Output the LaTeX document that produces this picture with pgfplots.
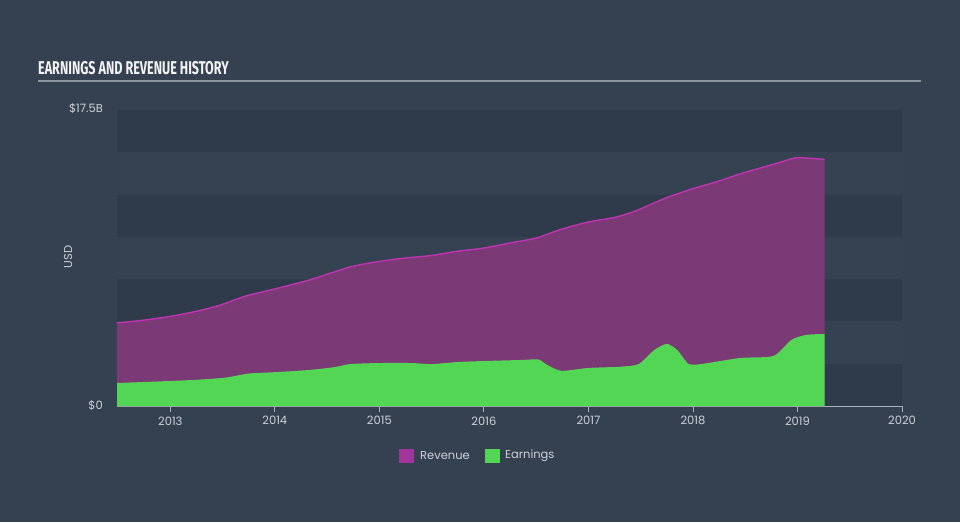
\documentclass[border=0pt]{standalone}
\usepackage{pgfplots}
\pgfplotsset{compat=1.18}
\usepackage{fontspec}
\setmainfont{Poppins}
\newfontfamily\titlefont[FakeStretch=0.68]{Fira Sans}
\definecolor{bgc}{RGB}{53,65,80}
\definecolor{banddark}{RGB}{47,59,74}
\definecolor{bandlight}{RGB}{53,66,81}
\definecolor{titlec}{RGB}{242,242,242}
\definecolor{linec}{RGB}{140,150,162}
\definecolor{labc}{RGB}{205,210,216}
\definecolor{axc}{RGB}{170,178,188}
\definecolor{revfill}{RGB}{123,57,117}
\definecolor{revline}{RGB}{192,52,178}
\definecolor{revleg}{RGB}{160,54,154}
\definecolor{earnfill}{RGB}{82,214,84}

\pgfplotstableread{
x y
2012.49 4.91
2012.75 5.08
2013.00 5.30
2013.25 5.60
2013.48 5.97
2013.72 6.50
2014.00 6.92
2014.33 7.45
2014.72 8.22
2015.00 8.55
2015.25 8.75
2015.50 8.90
2015.75 9.15
2016.00 9.34
2016.25 9.64
2016.50 9.93
2016.74 10.45
2017.00 10.88
2017.25 11.15
2017.45 11.53
2017.74 12.30
2018.00 12.85
2018.25 13.30
2018.45 13.72
2018.78 14.31
2018.98 14.67
2019.10 14.65
2019.26 14.58
}\revenue

\pgfplotstableread{
x y
2012.49 1.36
2012.75 1.42
2013.00 1.48
2013.25 1.55
2013.53 1.68
2013.75 1.92
2014.00 2.00
2014.33 2.13
2014.57 2.30
2014.72 2.48
2015.00 2.54
2015.30 2.54
2015.50 2.48
2015.75 2.60
2016.00 2.66
2016.35 2.72
2016.52 2.75
2016.60 2.45
2016.74 2.08
2017.00 2.25
2017.30 2.32
2017.48 2.48
2017.63 3.31
2017.75 3.67
2017.85 3.31
2017.96 2.48
2018.10 2.50
2018.45 2.84
2018.77 2.96
2018.94 3.90
2019.08 4.20
2019.26 4.26
}\earnings

\begin{document}
\begin{tikzpicture}[x=1pt,y=1pt]
\fill[bgc] (0,0) rectangle (960,522);
\useasboundingbox (0,0) rectangle (960,522);
\node[anchor=base west, inner sep=0pt, text=titlec, font=\titlefont\bfseries\fontsize{18.5}{20}\selectfont] at (38,447) {EARNINGS AND REVENUE HISTORY};
\draw[linec, line width=1.5pt] (38,441) -- (921,441);
\begin{axis}[
  at={(117pt,116pt)}, anchor=south west,
  width=785pt, height=296pt, scale only axis,
  xmin=2012.49, xmax=2020, ymin=0, ymax=17.5,
  axis x line=bottom, axis y line=none,
  x axis line style={draw=axc, line width=0.8pt, -},
  xtick={2013,2014,2015,2016,2017,2018,2019,2020},
  xticklabels={2013,2014,2015,2016,2017,2018,2019,2020},
  tick align=outside, major tick length=6pt,
  x tick style={draw=axc, line width=0.8pt},
  x tick label style={text=labc, font=\fontsize{11.5}{13}\selectfont, yshift=-1pt},
  /pgf/number format/assume math mode=true,
  clip=false,
]
\fill[banddark] (axis cs:2012.49,15) rectangle (axis cs:2020,17.5);
\fill[bandlight] (axis cs:2012.49,12.5) rectangle (axis cs:2020,15);
\fill[banddark] (axis cs:2012.49,10) rectangle (axis cs:2020,12.5);
\fill[bandlight] (axis cs:2012.49,7.5) rectangle (axis cs:2020,10);
\fill[banddark] (axis cs:2012.49,5) rectangle (axis cs:2020,7.5);
\fill[bandlight] (axis cs:2012.49,2.5) rectangle (axis cs:2020,5);
\fill[banddark] (axis cs:2012.49,0) rectangle (axis cs:2020,2.5);
\addplot[fill=revfill, draw=none, smooth, tension=0.4] table[x=x,y=y] {\revenue} \closedcycle;
\addplot[draw=revline, line width=1.4pt, smooth, tension=0.4] table[x=x,y=y] {\revenue};
\addplot[fill=earnfill, draw=none, smooth, tension=0.4] table[x=x,y=y] {\earnings} \closedcycle;
\node[anchor=east, text=labc, font=\fontsize{11.5}{13}\selectfont, inner sep=0pt] at (axis cs:2012.49,17.5) [xshift=-14pt, yshift=2pt] {\$17.5B};
\node[anchor=east, text=labc, font=\fontsize{11.5}{13}\selectfont, inner sep=0pt] at (axis cs:2012.49,0) [xshift=-14pt, yshift=1pt] {\$0};
\end{axis}
\node[rotate=90, text=labc, font=\fontsize{11.5}{13}\selectfont, inner sep=0pt] at (68,265) {USD};
\fill[revleg] (399,59) rectangle (414,73);
\node[anchor=west, text=labc, font=\fontsize{11.5}{13}\selectfont, inner sep=0pt] at (420,66) {Revenue};
\fill[earnfill] (485,59) rectangle (500,73);
\node[anchor=west, text=labc, font=\fontsize{11.5}{13}\selectfont, inner sep=0pt] at (505,66) {Earnings};
\end{tikzpicture}
\end{document}
